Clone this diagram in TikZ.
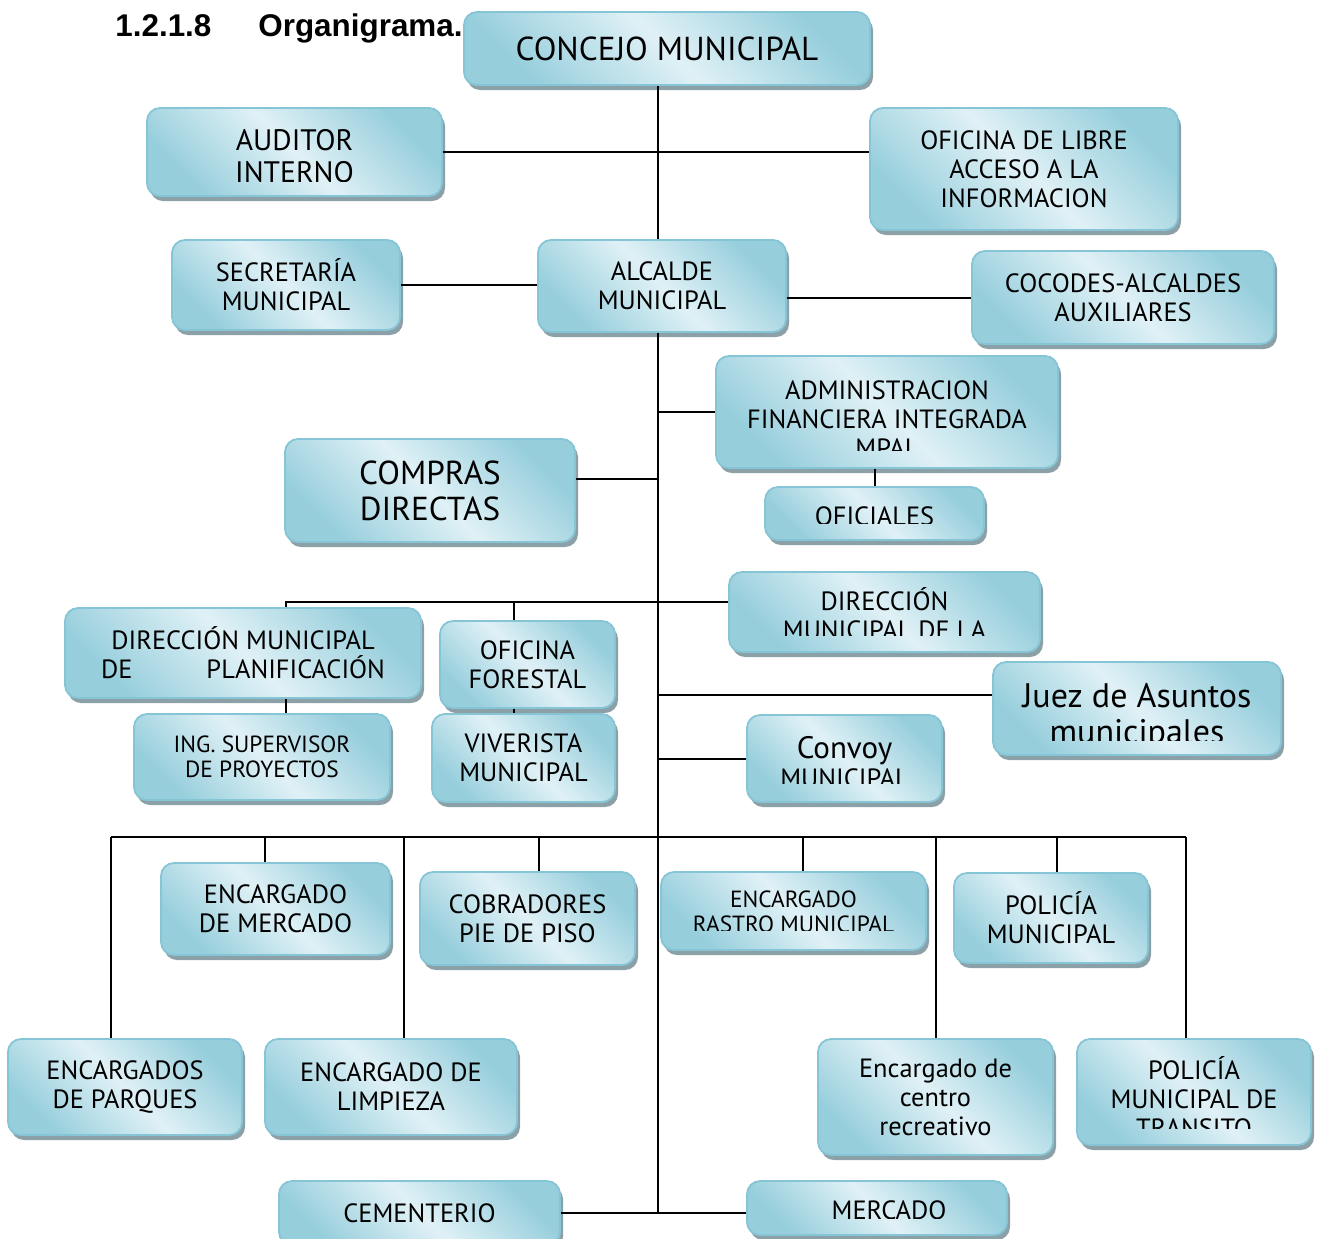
\documentclass[tikz,border=0pt]{standalone}
\usepackage{fontspec}
\setmainfont{PT Sans}
\newfontfamily\titfont{Liberation Sans}
\usetikzlibrary{positioning,shadows}
\definecolor{cajaosc}{HTML}{96CEDC}
\definecolor{cajaclaro}{HTML}{E0F1F6}
\definecolor{cajaborde}{HTML}{86C5D5}
\definecolor{sombra}{HTML}{8CA0A8}
\tikzset{
  caja/.style={rectangle, rounded corners=6.5pt, draw=cajaborde, line width=0.9pt,
    top color=cajaosc, bottom color=cajaosc, middle color=cajaclaro, shading angle=-45,
    inner sep=0pt, align=center, font=\fontsize{13.2}{14.5}\selectfont,
    general shadow={fill=sombra, shadow xshift=1.5pt, shadow yshift=-2.5pt}},
  grande/.style={font=\fontsize{16.6}{18}\selectfont},
  chico/.style={font=\fontsize{11.7}{12.5}\selectfont},
  corte/.style n args={3}{path picture={
    \clip ([yshift=#2]path picture bounding box.south west) rectangle (path picture bounding box.north east);
    \node[anchor=north, inner sep=0pt, outer sep=0pt, minimum width=0pt, minimum height=0pt,
      align=center, draw=none, fill=none] at ([yshift=-#1]path picture bounding box.north) {\rule{0pt}{1em}#3};}},
  linea/.style={line width=1pt},
  titulo/.style={font=\titfont\bfseries\fontsize{15.7}{18}\selectfont, inner sep=0pt},
}
\begin{document}
\begin{tikzpicture}[x=0.5pt, y=-0.5pt]
\useasboundingbox (0,0) rectangle (1321,1238);
\node[titulo, anchor=base west] (numero) at (115,36) {1.2.1.8};
\node[titulo, anchor=base west] (titulo) at (258,36) {Organigrama.};
% cajas
\node[caja, grande, minimum width=203pt, minimum height=36.5pt] (concejo) at (667,48.5) {CONCEJO MUNICIPAL};
\node[caja, font=\fontsize{14.8}{16}\selectfont, minimum width=147.5pt, minimum height=44pt,
  corte={6.4pt}{7.5pt}{AUDITOR\\INTERNO}] (auditor) at (294.5,152) {};
\node[caja, minimum width=154pt, minimum height=61pt] (libre) at (1024,169) {OFICINA DE LIBRE\\ACCESO A LA\\INFORMACION};
\node[caja, minimum width=114pt, minimum height=45pt] (secretaria) at (286,285) {SECRETARÍA\\MUNICIPAL};
\node[caja, minimum width=124pt, minimum height=46pt] (alcalde) at (662,286) {ALCALDE\\MUNICIPAL};
\node[caja, minimum width=151pt, minimum height=46.5pt] (cocodes) at (1123,297.5) {COCODES-ALCALDES\\AUXILIARES};
\node[caja, minimum width=171pt, minimum height=56pt, corte={8.3pt}{9pt}{ADMINISTRACION\\FINANCIERA INTEGRADA\\MPAL}] (admin) at (887,412) {};
\node[caja, minimum width=109.5pt, minimum height=26.5pt, corte={5.8pt}{8.5pt}{OFICIALES}] (oficiales) at (874.5,513.5) {};
\node[caja, grande, minimum width=145pt, minimum height=51.5pt] (compras) at (430,490.5) {COMPRAS\\DIRECTAS};
\node[caja, minimum width=155.5pt, minimum height=40pt, corte={5.8pt}{8.5pt}{DIRECCIÓN\\MUNICIPAL DE LA}] (dirla) at (884.5,612) {};
\node[caja, minimum width=178pt, minimum height=45pt] (planificacion) at (243,653) {DIRECCIÓN MUNICIPAL\\\makebox[142pt]{DE\hfill PLANIFICACIÓN}};
\node[caja, minimum width=87.5pt, minimum height=43.5pt] (forestal) at (527.5,664.5) {OFICINA\\FORESTAL};
\node[caja, chico, minimum width=128pt, minimum height=43pt] (ing) at (262,757) {ING. SUPERVISOR\\DE PROYECTOS};
\node[caja, minimum width=91.5pt, minimum height=44pt] (viverista) at (523.5,758) {VIVERISTA\\MUNICIPAL};
\node[caja, font=\fontsize{17}{18}\selectfont, minimum width=144pt, minimum height=46.5pt,
  corte={5.5pt}{7.5pt}{Juez de Asuntos\\municipales}] (juez) at (1137,708.5) {};
\node[caja, minimum width=97.5pt, minimum height=43.5pt,
  corte={8.3pt}{9.5pt}{{\fontsize{15.5}{18}\selectfont Convoy}\\MUNICIPAL}] (convoy) at (844.5,758.5) {};
\node[caja, minimum width=114.5pt, minimum height=46pt] (encmercado) at (275.5,909) {ENCARGADO\\DE MERCADO};
\node[caja, minimum width=107.5pt, minimum height=46.5pt] (cobradores) at (527.5,918.5) {COBRADORES\\PIE DE PISO};
\node[caja, chico, minimum width=132.5pt, minimum height=39pt, corte={6pt}{10pt}{ENCARGADO\\RASTRO MUNICIPAL}] (rastro) at (793.5,911) {};
\node[caja, minimum width=97pt, minimum height=45pt] (policia) at (1051,918) {POLICÍA\\MUNICIPAL};
\node[caja, minimum width=117pt, minimum height=48pt] (parques) at (125,1087) {ENCARGADOS\\DE PARQUES};
\node[caja, minimum width=126pt, minimum height=48pt] (limpieza) at (391,1087) {ENCARGADO DE\\LIMPIEZA};
\node[caja, minimum width=117.5pt, minimum height=58pt] (recreativo) at (935.5,1097) {Encargado de\\centro\\recreativo};
\node[caja, minimum width=117pt, minimum height=53pt, corte={7pt}{8.5pt}{POLICÍA\\MUNICIPAL DE\\TRANSITO}] (transito) at (1194,1092) {};
\node[caja, minimum width=140.5pt, minimum height=32pt] (cementerio) at (419.5,1213) {CEMENTERIO};
\node[caja, minimum width=130pt, minimum height=27pt, corte={6pt}{8.5pt}{\hspace*{12pt}MERCADO}] (mercado) at (877,1208) {};
% lineas
\coordinate (tronco) at (658,0);
\coordinate (ramaplan) at (286,602);
\coordinate (ramafor) at (514,602);
\coordinate (bus) at (657,837);
\draw[linea] (tronco |- concejo.south) -- (tronco |- alcalde.north);
\draw[linea] (auditor.east) -- (auditor.east -| libre.west);
\draw[linea] (secretaria.east) -- (secretaria.east -| alcalde.west);
\draw[linea] (alcalde.east |- cocodes.west) -- (cocodes.west);
\draw[linea] (tronco |- alcalde.south) -- (tronco |- cementerio.east);
\draw[linea] (cementerio.east) -- (mercado.west |- cementerio.east);
\draw[linea] (tronco |- admin.west) -- (admin.west);
\draw[linea] (oficiales.north |- admin.south) -- (oficiales.north);
\draw[linea] ([yshift=6pt]compras.east) -- ([yshift=6pt]compras.east -| tronco);
\draw[linea] (dirla.west |- ramaplan) -- (ramaplan) -- (ramaplan |- planificacion.north);
\draw[linea] (ramaplan |- planificacion.south) -- (ramaplan |- ing.north);
\draw[linea] (ramafor) -- (ramafor |- forestal.north);
\draw[linea] (ramafor |- forestal.south) -- (ramafor |- viverista.north);
\draw[linea] ([yshift=6.75pt]juez.west -| tronco) -- ([yshift=6.75pt]juez.west);
\draw[linea] (tronco |- convoy.west) -- (convoy.west);
\draw[linea] ([xshift=-7pt]parques.north |- bus) -- ([xshift=-4pt]transito.north |- bus);
\foreach \c/\dx in {parques/-7, encmercado/-5.25, limpieza/6.5, cobradores/5.75, rastro/4.75, recreativo/0, policia/3, transito/-4}
  \draw[linea] ([xshift=\dx pt]\c.north |- bus) -- ([xshift=\dx pt]\c.north);
\end{tikzpicture}
\end{document}
